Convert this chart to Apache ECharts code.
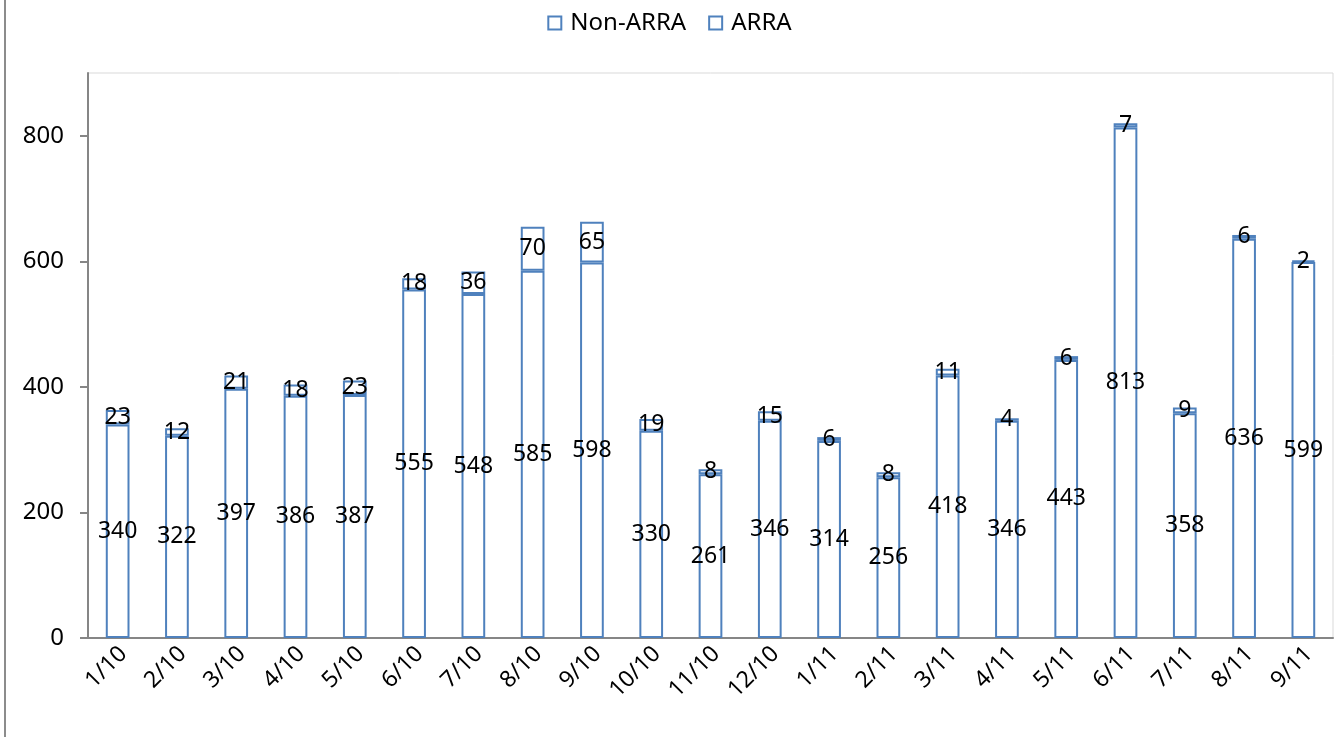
<!DOCTYPE html>
<html style="height: 100%">
<head>
    <meta charset="utf-8">
</head>
<body style="height: 100%; margin: 0; background: #fff">
    <div id="container" style="width: 1339px; height: 737px"></div>
    <script type="text/javascript" src="https://cdn.jsdelivr.net/npm/echarts@6/dist/echarts.min.js"></script>
    <script type="text/javascript">
var months = ['1/10','2/10','3/10','4/10','5/10','6/10','7/10','8/10','9/10','10/10','11/10','12/10',
              '1/11','2/11','3/11','4/11','5/11','6/11','7/11','8/11','9/11'];
var nonArra = [340,322,397,386,387,555,548,585,598,330,261,346,314,256,418,346,443,813,358,636,599];
var arra = [23,12,21,18,23,18,36,70,65,19,8,15,6,8,11,4,6,7,9,6,2];

var dom = document.getElementById("container");
var myChart = echarts.init(dom);
var fontName = 'Noto Sans';
var blue = '#4F81BD';

var barStyle = {
    color: '#fff',
    borderColor: blue,
    borderWidth: 2
};
var labelStyle = {
    show: true,
    position: 'inside',
    color: '#000',
    fontSize: 23,
    fontFamily: fontName
};

var option = {
    backgroundColor: '#fff',
    animation: false,
    graphic: [{
        type: 'line',
        shape: { x1: 5, y1: 0, x2: 5, y2: 737 },
        style: { stroke: '#8c8c8c', lineWidth: 2 }
    }],
    legend: {
        top: 6,
        left: 'center',
        itemWidth: 13,
        itemHeight: 13,
        itemGap: 22,
        itemStyle: { color: '#fff', borderColor: blue, borderWidth: 2 },
        icon: 'rect',
        textStyle: { fontSize: 24, fontFamily: fontName, color: '#000', padding: [0, 0, 0, 4] },
        data: ['Non-ARRA', 'ARRA']
    },
    grid: {
        left: 88,
        right: 6,
        top: 73,
        bottom: 99,
        show: true,
        borderColor: '#d9d9d9',
        borderWidth: 1
    },
    xAxis: {
        type: 'category',
        data: months,
        axisLine: { lineStyle: { color: '#868686', width: 2 } },
        axisTick: { show: false },
        axisLabel: {
            rotate: 45,
            interval: 0,
            fontSize: 23,
            fontFamily: fontName,
            color: '#000',
            margin: 18,
            padding: [0, -8, 0, 0]
        }
    },
    yAxis: {
        type: 'value',
        min: 0,
        max: 900,
        interval: 200,
        axisLine: { show: true, lineStyle: { color: '#868686', width: 2 } },
        axisTick: { show: true, length: 8, lineStyle: { color: '#868686', width: 2 } },
        splitLine: { show: false },
        axisLabel: {
            showMaxLabel: false,
            fontSize: 24,
            fontFamily: fontName,
            color: '#000',
            margin: 24
        }
    },
    series: [
        {
            name: 'Non-ARRA',
            type: 'bar',
            stack: 'total',
            barWidth: '40%',
            data: nonArra,
            itemStyle: barStyle,
            label: labelStyle
        },
        {
            name: 'ARRA',
            type: 'bar',
            stack: 'total',
            barWidth: '40%',
            data: arra,
            itemStyle: barStyle,
            label: labelStyle
        }
    ]
};
myChart.setOption(option, true);
</script>
</body>
</html>
